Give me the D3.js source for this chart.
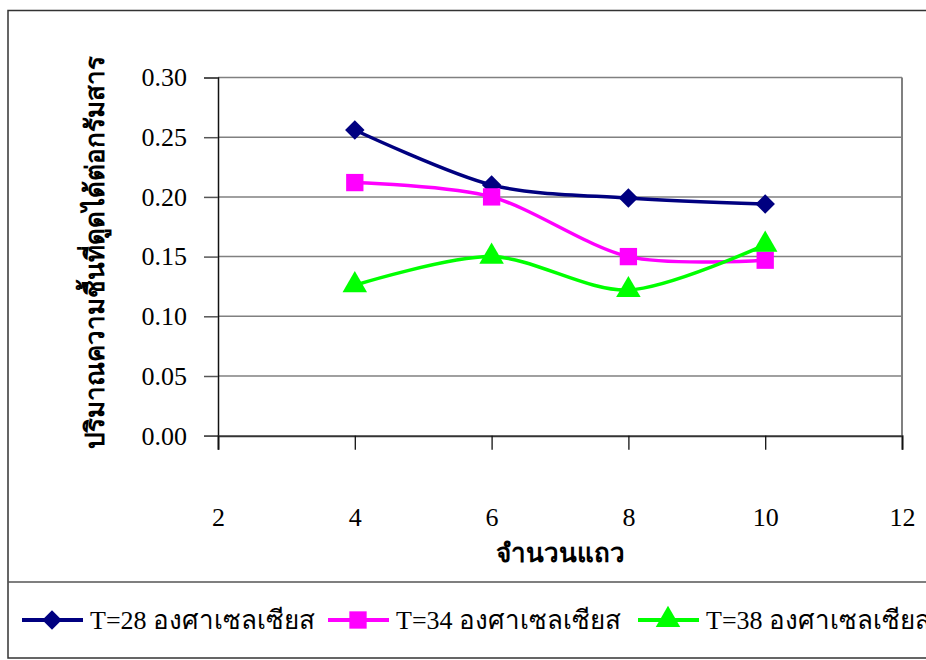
<!DOCTYPE html>
<html>
<head>
<meta charset="utf-8">
<script src="https://cdn.jsdelivr.net/npm/d3@7"></script>
<style>
  body { margin: 0; background: #fff; }
</style>
</head>
<body>
<svg id="chart"></svg>
<script>
// ค่าจากกราฟ
const rows = [4, 6, 8, 10];
const t28 = [0.256, 0.210, 0.199, 0.194];
const t34 = [0.212, 0.200, 0.150, 0.147];
const t38 = [0.126, 0.150, 0.122, 0.160];
const seriesNames = ["T=28 องศาเซลเซียส", "T=34 องศาเซลเซียส", "T=38 องศาเซลเซียส"];
const xTicks = [2, 4, 6, 8, 10, 12];
const yTicks = [0, 0.05, 0.10, 0.15, 0.20, 0.25, 0.30];

const FONT = "'Liberation Serif', 'Times New Roman', serif";
const width = 926, height = 660;
const plot = { left: 218, right: 902, top: 77.5, bottom: 435.7 };

const svg = d3.select("#chart").attr("width", width).attr("height", height)
  .style("font-family", FONT);

// กรอบนอก + กรอบคำอธิบาย
svg.append("rect")
  .attr("x", 8).attr("y", 10.5)
  .attr("width", 940).attr("height", 647.5)
  .attr("fill", "none").attr("stroke", "#333").attr("stroke-width", 1.5);
svg.append("line")
  .attr("x1", 8).attr("x2", width).attr("y1", 582).attr("y2", 582)
  .attr("stroke", "#555").attr("stroke-width", 1.5);

const x = d3.scaleLinear().domain([2, 12]).range([plot.left, plot.right]);
const y = d3.scaleLinear().domain([0, 0.30]).range([plot.bottom, plot.top]);

// เส้นกริด
svg.append("g")
  .selectAll("line")
  .data(yTicks.filter(d => d > 0))
  .enter()
  .append("line")
  .attr("x1", plot.left).attr("x2", plot.right)
  .attr("y1", d => y(d)).attr("y2", d => y(d))
  .attr("stroke", "#808080").attr("stroke-width", 1.5);

// ขอบขวา
svg.append("line")
  .attr("x1", plot.right).attr("x2", plot.right)
  .attr("y1", plot.top).attr("y2", plot.bottom)
  .attr("stroke", "#808080").attr("stroke-width", 2);

// แกน Y
const yAxis = svg.append("g")
  .attr("transform", `translate(${plot.left},0)`)
  .call(d3.axisLeft(y).tickValues(yTicks).tickSize(14).tickPadding(17).tickFormat(d3.format(".2f")));
yAxis.attr("font-family", null);
yAxis.select(".domain").attr("stroke", "#111").attr("stroke-width", 1.5);
yAxis.selectAll(".tick line").attr("stroke", "#555").attr("stroke-width", 1.5);
yAxis.selectAll("text")
  .style("font-family", FONT)
  .style("font-size", "26px").attr("fill", "#000");

// แกน X
const xAxis = svg.append("g")
  .attr("transform", `translate(0,${plot.bottom})`)
  .call(d3.axisBottom(x).tickValues(xTicks).tickSize(14).tickPadding(58));
xAxis.attr("font-family", null);
xAxis.select(".domain").attr("stroke", "#333").attr("stroke-width", 2);
xAxis.selectAll(".tick line").attr("stroke", "#111").attr("stroke-width", 1.3);
xAxis.selectAll("text")
  .style("font-family", FONT)
  .style("font-size", "26px").attr("fill", "#000");

// ชื่อแกน
svg.append("text")
  .attr("x", (plot.left + plot.right) / 2)
  .attr("y", 562)
  .attr("text-anchor", "middle")
  .style("font-size", "26px").style("font-weight", "bold")
  .text("จำนวนแถว");

svg.append("text")
  .attr("transform", `translate(104,${(plot.top + plot.bottom) / 2 - 4}) rotate(-90)`)
  .attr("text-anchor", "middle")
  .style("font-size", "26px").style("font-weight", "bold")
  .text("ปริมาณความชื้นที่ดูดได้ต่อกรัมสาร");

const series = [
  { name: seriesNames[0], values: t28, color: "#000080", symbol: d3.symbolSquare, size: 190, rot: 45 },
  { name: seriesNames[1], values: t34, color: "#FF00FF", symbol: d3.symbolSquare, size: 300, rot: 0 },
  { name: seriesNames[2], values: t38, color: "#00FF00", symbol: d3.symbolTriangle, size: 260, rot: 0 }
];

const line = d3.line()
  .x((d, i) => x(rows[i]))
  .y(d => y(d))
  .curve(d3.curveCardinal.tension(0.1));

series.forEach(s => {
  svg.append("path")
    .datum(s.values)
    .attr("d", line)
    .attr("fill", "none")
    .attr("stroke", s.color)
    .attr("stroke-width", 3.5);

  svg.append("g")
    .selectAll("path")
    .data(s.values)
    .enter()
    .append("path")
    .attr("transform", (d, i) => `translate(${x(rows[i])},${y(d)}) rotate(${s.rot})`)
    .attr("d", d3.symbol().type(s.symbol).size(s.size))
    .attr("fill", s.color);
});

// คำอธิบาย
const legendX = [22, 328, 638];
const legend = svg.append("g")
  .selectAll("g")
  .data(series)
  .enter()
  .append("g")
  .attr("transform", (d, i) => `translate(${legendX[i]},620)`);

legend.append("line")
  .attr("x1", 0).attr("x2", 61)
  .attr("stroke", d => d.color).attr("stroke-width", 4);
legend.append("path")
  .attr("transform", d => `translate(30,0) rotate(${d.rot})`)
  .attr("d", d => d3.symbol().type(d.symbol).size(d.size)())
  .attr("fill", d => d.color);
legend.append("text")
  .attr("x", 68).attr("y", 9)
  .style("font-size", "26px")
  .text(d => d.name);
</script>
</body>
</html>
